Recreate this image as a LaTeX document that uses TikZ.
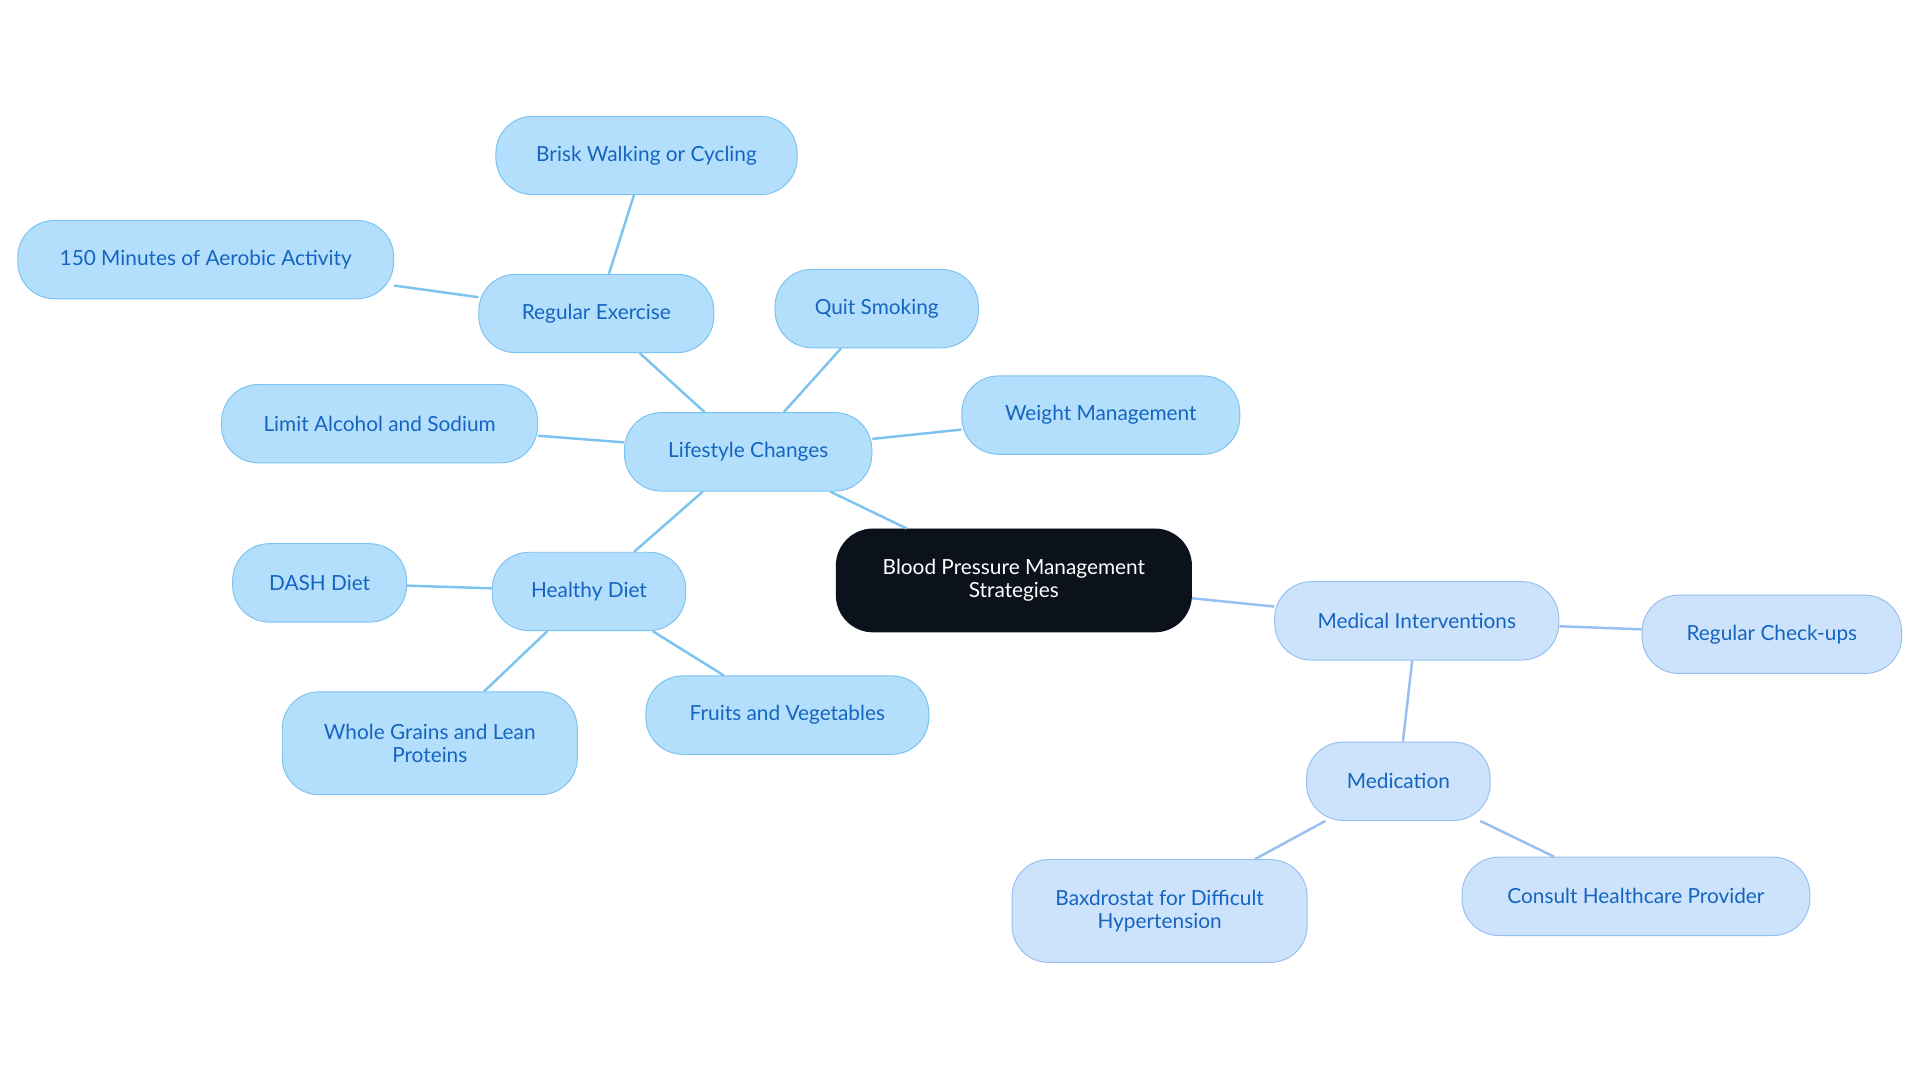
\documentclass[tikz,border=0pt]{standalone}
\usepackage{fontspec}
\setmainfont{Lato}
\begin{document}
\begin{tikzpicture}[x=1pt,y=-1pt,
  base/.style={rounded corners=30pt, line width=0.8pt, align=center, font=\fontsize{17}{19}\selectfont, inner sep=0pt},
  life/.style={base, fill=lifefill, draw=lifedraw, text=lifetext},
  med/.style={base, fill=medfill, draw=meddraw, text=lifetext},
  le/.style={draw=lifedraw, line width=2pt},
  me/.style={draw=meddraw, line width=2pt}]
\definecolor{lifefill}{HTML}{B3DFFC}
\definecolor{lifedraw}{HTML}{7CC3F0}
\definecolor{lifetext}{HTML}{1565C0}
\definecolor{medfill}{HTML}{CCE3FB}
\definecolor{meddraw}{HTML}{96C0F0}
\definecolor{rootfill}{HTML}{0B121C}
\useasboundingbox (0,0) rectangle (1568,884);
\node[base, fill=rootfill, draw=rootfill, text=white, minimum width=290pt, minimum height=84pt] (root) at (828,474) {Blood Pressure Management\\Strategies};
\node[life, minimum width=202pt, minimum height=64pt] (lc) at (611,369) {Lifestyle Changes};
\node[life, minimum width=192pt, minimum height=64pt] (re) at (487,256) {Regular Exercise};
\node[life, minimum width=246pt, minimum height=64pt] (bw) at (528,127) {Brisk Walking or Cycling};
\node[life, minimum width=307pt, minimum height=64pt] (am) at (168,212) {150 Minutes of Aerobic Activity};
\node[life, minimum width=166pt, minimum height=64pt] (qs) at (716,252) {Quit Smoking};
\node[life, minimum width=227pt, minimum height=64pt] (wm) at (899,339) {Weight Management};
\node[life, minimum width=258pt, minimum height=64pt] (la) at (310,346) {Limit Alcohol and Sodium};
\node[life, minimum width=158pt, minimum height=64pt] (hd) at (481,483) {Healthy Diet};
\node[life, minimum width=142pt, minimum height=64pt] (dd) at (261,476) {DASH Diet};
\node[life, minimum width=241pt, minimum height=84pt] (wg) at (351,607) {Whole Grains and Lean\\Proteins};
\node[life, minimum width=231pt, minimum height=64pt] (fv) at (643,584) {Fruits and Vegetables};
\node[med, minimum width=232pt, minimum height=64pt] (mi) at (1157,507) {Medical Interventions};
\node[med, minimum width=212pt, minimum height=64pt] (rc) at (1447,518) {Regular Check-ups};
\node[med, minimum width=150pt, minimum height=64pt] (md) at (1142,638) {Medication};
\node[med, minimum width=241pt, minimum height=84pt] (bx) at (947,744) {Baxdrostat for Difficult\\Hypertension};
\node[med, minimum width=284pt, minimum height=64pt] (ch) at (1336,732) {Consult Healthcare Provider};
\draw[le] (root) -- (lc);
\draw[le] (lc) -- (re);
\draw[le] (re) -- (bw);
\draw[le] (re) -- (am);
\draw[le] (lc) -- (qs);
\draw[le] (lc) -- (wm);
\draw[le] (lc) -- (la);
\draw[le] (lc) -- (hd);
\draw[le] (hd) -- (dd);
\draw[le] (hd) -- (wg);
\draw[le] (hd) -- (fv);
\draw[me] (root) -- (mi);
\draw[me] (mi) -- (rc);
\draw[me] (mi) -- (md);
\draw[me] (md) -- (bx);
\draw[me] (md) -- (ch);
\end{tikzpicture}
\end{document}
